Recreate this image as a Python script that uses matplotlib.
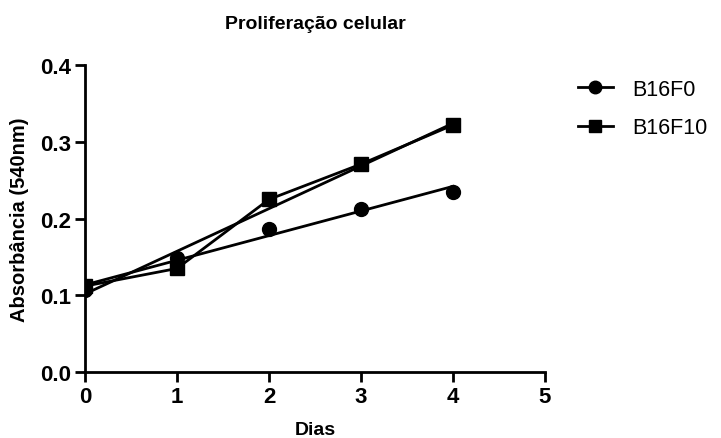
import numpy as np
import matplotlib
matplotlib.use('Agg')
import matplotlib.pyplot as plt
from matplotlib.lines import Line2D

plt.rcParams['font.family'] = ['Liberation Sans', 'DejaVu Sans']

dias = [0, 1, 2, 3, 4]
b16f0 = [0.107, 0.148, 0.186, 0.213, 0.235]
b16f10 = [0.112, 0.135, 0.225, 0.271, 0.322]
series_names = ['B16F0', 'B16F10']
xticks = [0, 1, 2, 3, 4, 5]
yticks = [0.0, 0.1, 0.2, 0.3, 0.4]

fig = plt.figure(figsize=(7.21, 4.39), dpi=100)
ax = fig.add_axes([0.1179, 0.1503, 0.638, 0.699])

x = np.array(dias)
# linear regression lines
for ys in (b16f0, b16f10):
    m, b = np.polyfit(x, ys, 1)
    ax.plot([x[0], x[-1]], [b, m * x[-1] + b], color='black', lw=2, zorder=2)

# B16F10 connected points
ax.plot(dias, b16f10, color='black', lw=2, marker='s', ms=10, zorder=3)
# B16F0 points only
ax.plot(dias, b16f0, ls='none', color='black', marker='o', ms=10, zorder=3)

ax.set_xlim(0, 5)
ax.set_ylim(0, 0.4)
ax.set_xticks(xticks)
ax.set_yticks(yticks)
ax.set_yticklabels(['%.1f' % v for v in yticks])
for s in ['top', 'right']:
    ax.spines[s].set_visible(False)
for s in ['left', 'bottom']:
    ax.spines[s].set_linewidth(2)
ax.tick_params(width=2, length=7, labelsize=16, pad=3)
for lab in ax.get_xticklabels() + ax.get_yticklabels():
    lab.set_fontweight('bold')

ax.set_title('Proliferação celular', fontsize=14, fontweight='bold', pad=27)
ax.set_xlabel('Dias', fontsize=14, fontweight='bold', labelpad=10)
ax.set_ylabel('Absorbância (540nm)', fontsize=14.5, fontweight='bold', labelpad=8)

handles = [Line2D([], [], color='black', lw=2, marker='o', ms=9),
           Line2D([], [], color='black', lw=2, marker='s', ms=9)]
fig.legend(handles, series_names, loc='upper left', bbox_to_anchor=(0.775, 0.862),
           frameon=False, fontsize=15.5, handlelength=1.6, handletextpad=0.9,
           labelspacing=0.8)

plt.savefig('out.png')
